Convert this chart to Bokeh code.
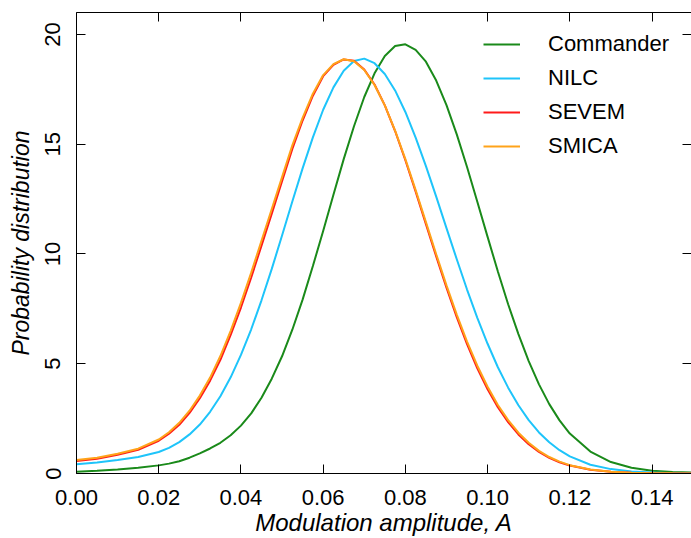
from bokeh.plotting import figure
from bokeh.models import (Range1d, LinearAxis, FixedTicker, NumeralTickFormatter,
                          Legend, LegendItem)
from bokeh.embed import file_html
from bokeh.resources import INLINE

# ---- data ----
amplitude = [0, 0.005, 0.01, 0.015, 0.02, 0.0225, 0.025, 0.0275, 0.03, 0.0325,
             0.035, 0.0375, 0.04, 0.0425, 0.045, 0.0475, 0.05, 0.0525, 0.055, 0.0575,
             0.06, 0.0625, 0.065, 0.0675, 0.07, 0.0725, 0.075, 0.0775, 0.08, 0.0825,
             0.085, 0.0875, 0.09, 0.0925, 0.095, 0.0975, 0.1, 0.1025, 0.105, 0.1075,
             0.11, 0.1125, 0.115, 0.1175, 0.12, 0.125, 0.13, 0.135, 0.14, 0.145, 0.15]

commander = [0.08, 0.12, 0.18, 0.26, 0.37, 0.45, 0.56, 0.72, 0.92, 1.14,
             1.40, 1.74, 2.18, 2.74, 3.45, 4.32, 5.34, 6.55, 7.92, 9.45,
             11.05, 12.70, 14.32, 15.82, 17.15, 18.23, 19.02, 19.47, 19.55, 19.30,
             18.76, 17.90, 16.78, 15.45, 13.96, 12.38, 10.78, 9.20, 7.71, 6.35,
             5.12, 4.06, 3.16, 2.42, 1.82, 1.00, 0.52, 0.26, 0.13, 0.07, 0.04]

nilc = [0.42, 0.50, 0.61, 0.75, 0.98, 1.17, 1.43, 1.78, 2.23, 2.81,
        3.52, 4.38, 5.40, 6.57, 7.89, 9.32, 10.84, 12.39, 13.90, 15.31,
        16.57, 17.59, 18.35, 18.79, 18.90, 18.69, 18.20, 17.45, 16.47, 15.30,
        14.00, 12.61, 11.18, 9.76, 8.38, 7.09, 5.91, 4.84, 3.91, 3.11,
        2.43, 1.87, 1.42, 1.06, 0.78, 0.40, 0.20, 0.09, 0.04, 0.015, 0.006]

sevem = [0.57, 0.67, 0.85, 1.08, 1.49, 1.81, 2.22, 2.76, 3.43, 4.23,
         5.18, 6.31, 7.56, 8.93, 10.38, 11.84, 13.31, 14.79, 16.08, 17.21,
         18.10, 18.62, 18.86, 18.80, 18.40, 17.72, 16.77, 15.60, 14.27, 12.84,
         11.36, 9.89, 8.46, 7.12, 5.89, 4.79, 3.84, 3.02, 2.34, 1.78,
         1.33, 0.98, 0.71, 0.51, 0.36, 0.17, 0.075, 0.032, 0.013, 0.005, 0.002]

smica = [0.62, 0.72, 0.90, 1.13, 1.55, 1.88, 2.31, 2.86, 3.55, 4.37,
         5.35, 6.50, 7.77, 9.15, 10.60, 12.05, 13.50, 14.95, 16.20, 17.30,
         18.15, 18.65, 18.87, 18.78, 18.38, 17.70, 16.77, 15.62, 14.32, 12.91,
         11.45, 9.99, 8.57, 7.24, 6.01, 4.91, 3.95, 3.12, 2.43, 1.86,
         1.40, 1.03, 0.75, 0.54, 0.38, 0.18, 0.08, 0.035, 0.015, 0.006, 0.002]

series_names = ["Commander", "NILC", "SEVEM", "SMICA"]
series_values = [commander, nilc, sevem, smica]
series_colors = ["#1a8a1a", "#1ec4fa", "#ff1a1a", "#ffa31a"]

x_ticks = [0.0, 0.02, 0.04, 0.06, 0.08, 0.10, 0.12, 0.14]
y_ticks = [0, 5, 10, 15, 20]

FONT = "Liberation Sans"

p = figure(width=691, height=538, output_backend="svg", toolbar_location=None,
           x_range=Range1d(0, 0.1496), y_range=Range1d(0, 21.0),
           min_border_left=76, min_border_right=0, min_border_top=12,
           min_border_bottom=65)
p.grid.visible = False
p.outline_line_color = None
p.background_fill_color = "white"
p.border_fill_color = "white"

items = []
for name, vals, col in zip(series_names, series_values, series_colors):
    r = p.line(amplitude, vals, line_color=col, line_width=2)
    items.append(LegendItem(label=name, renderers=[r]))

# bottom axis
xa = p.xaxis[0]
xa.ticker = FixedTicker(ticks=x_ticks)
xa.formatter = NumeralTickFormatter(format="0.00")
xa.major_tick_in = 9
xa.major_tick_out = 0
xa.minor_tick_line_color = None
xa.major_label_standoff = 16
xa.major_label_text_font = FONT
xa.major_label_text_font_size = "22px"
xa.major_label_text_color = "black"
xa.axis_label = "Modulation amplitude, A"
xa.axis_label_text_font = FONT
xa.axis_label_text_font_style = "italic"
xa.axis_label_text_font_size = "24px"
xa.axis_label_text_color = "black"
xa.axis_label_standoff = 1
xa.axis_line_color = "black"

# left axis
ya = p.yaxis[0]
ya.ticker = FixedTicker(ticks=y_ticks)
ya.major_tick_in = 9
ya.major_tick_out = 0
ya.minor_tick_line_color = None
ya.major_label_orientation = "vertical"
ya.major_label_standoff = 16
ya.major_label_text_font = FONT
ya.major_label_text_font_size = "22px"
ya.major_label_text_color = "black"
ya.axis_label = "Probability distribution"
ya.axis_label_text_font = FONT
ya.axis_label_text_font_style = "italic"
ya.axis_label_text_font_size = "23px"
ya.axis_label_text_color = "black"
ya.axis_label_standoff = 9
ya.axis_line_color = "black"

# mirrored ticks on top and right (no labels drawn)
top = LinearAxis(ticker=FixedTicker(ticks=x_ticks), major_tick_in=9, major_tick_out=0,
                 minor_tick_line_color=None, major_label_text_color=None,
                 major_label_text_font_size="1px", major_label_standoff=0,
                 axis_line_color="black")
right = LinearAxis(ticker=FixedTicker(ticks=y_ticks), major_tick_in=9, major_tick_out=0,
                   minor_tick_line_color=None, major_label_text_color=None,
                   major_label_text_font_size="1px", major_label_standoff=0,
                   axis_line_color=None)
p.add_layout(top, "above")
p.add_layout(right, "right")

legend = Legend(items=items, location=(407, 314), border_line_color=None,
                background_fill_alpha=0, margin=0, padding=0, spacing=8,
                glyph_width=37, glyph_height=24, label_height=24,
                label_standoff=28, label_text_font=FONT,
                label_text_font_size="22px", label_text_color="black")
p.add_layout(legend)

open("out.html", "w").write(file_html(p, INLINE))
